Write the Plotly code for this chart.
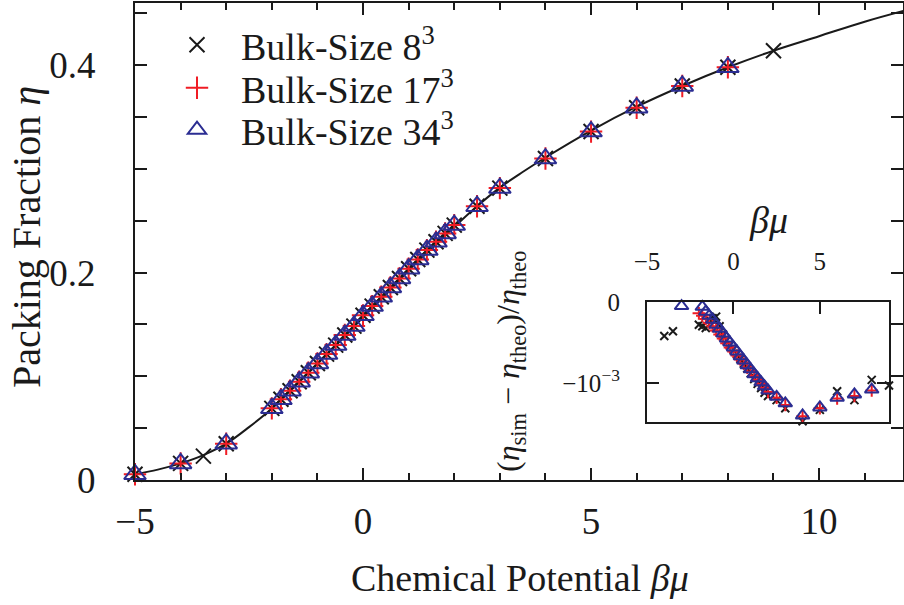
import plotly.graph_objects as go

# ---------------- data ----------------
# theoretical curve eta(beta mu)
mu_theo = [-5, -4.5, -4, -3.5, -3, -2.5, -2, -1.5, -1, -0.5, 0, 0.5, 1, 1.5, 2,
           2.5, 3, 3.5, 4, 5, 6, 7, 8, 9, 10, 11, 11.9]
eta_theo = [0.0055, 0.010, 0.016, 0.024, 0.035, 0.051, 0.069, 0.091, 0.112, 0.134,
            0.157, 0.179, 0.202, 0.223, 0.244, 0.264, 0.282, 0.297, 0.311, 0.337,
            0.360, 0.380, 0.398, 0.414, 0.428, 0.442, 0.453]

# simulation points, bulk size 17^3 and 34^3 (same chemical potentials)
mu_big = [-5, -4, -3, -2, -1.8, -1.6, -1.4, -1.2, -1.0, -0.8, -0.6, -0.4, -0.2, 0,
          0.2, 0.4, 0.6, 0.8, 1.0, 1.2, 1.4, 1.6, 1.8, 2.0, 2.5, 3, 4, 5, 6, 7, 8]
eta_17 = [0.0055, 0.016, 0.035, 0.0691, 0.0778, 0.0861, 0.0948, 0.1035, 0.1124,
          0.1214, 0.1301, 0.1398, 0.1484, 0.1588, 0.1677, 0.1767, 0.1857, 0.1944,
          0.2038, 0.2127, 0.2217, 0.2297, 0.2378, 0.2458, 0.2640, 0.2815, 0.3100,
          0.3360, 0.3590, 0.3800, 0.3980]
eta_34 = [0.0055, 0.016, 0.035, 0.0691, 0.0778, 0.0861, 0.0948, 0.1035, 0.1124,
          0.1214, 0.1301, 0.1398, 0.1484, 0.1588, 0.1677, 0.1767, 0.1857, 0.1944,
          0.2038, 0.2127, 0.2217, 0.2297, 0.2378, 0.2458, 0.2640, 0.2815, 0.3100,
          0.3360, 0.3590, 0.3800, 0.3980]

# bulk size 8^3
mu_8 = [-5, -4, -3.5, -3, -2, -1.8, -1.6, -1.4, -1.2, -1.0, -0.8, -0.6, -0.4, -0.2, 0,
        0.2, 0.4, 0.6, 0.8, 1.0, 1.2, 1.4, 1.6, 1.8, 2.0, 2.5, 3, 4, 5, 6, 7, 8, 9]
eta_8 = [0.0055, 0.016, 0.023, 0.035, 0.0691, 0.0778, 0.0861, 0.0948, 0.1035, 0.1124,
         0.1214, 0.1301, 0.1398, 0.1484, 0.1588, 0.1677, 0.1767, 0.1857, 0.1944,
         0.2038, 0.2127, 0.2217, 0.2297, 0.2378, 0.2458, 0.2640, 0.2815, 0.3100,
         0.3360, 0.3590, 0.3800, 0.3980, 0.4140]

# inset: relative deviation (eta_sim - eta_theo)/eta_theo
ins_mu_8 = [-4, -3.5, -2, -1.8, -1.6, -1.4, -1.2, -1.0, -0.8, -0.6, -0.4, -0.2, 0,
            0.2, 0.4, 0.6, 0.8, 1.0, 1.2, 1.4, 1.6, 1.8, 2.0, 2.5, 3, 4, 5, 6, 7, 8, 9]
ins_dev_8 = [-0.00042, -0.00036, -0.00028, -0.00030, -0.00032, -0.00022, -0.00020,
             -0.00018, -0.00030, -0.00040, -0.00047, -0.00053, -0.00058, -0.00064,
             -0.00070, -0.00076, -0.00082, -0.00088, -0.00095, -0.00101, -0.00106,
             -0.00112, -0.00116, -0.00121, -0.00131, -0.00147, -0.00133, -0.00110,
             -0.00121, -0.00096, -0.00103]

ins_mu_17 = [-2, -1.8, -1.6, -1.4, -1.2, -1.0, -0.8, -0.6, -0.4, -0.2, 0, 0.2, 0.4,
             0.6, 0.8, 1.0, 1.2, 1.4, 1.6, 1.8, 2.0, 2.5, 3, 4, 5, 6, 7, 8]
ins_dev_17 = [-0.00014, -0.00017, -0.00021, -0.00026, -0.00030, -0.00035, -0.00040,
              -0.00045, -0.00051, -0.00056, -0.00061, -0.00066, -0.00071, -0.00076,
              -0.00081, -0.00086, -0.00091, -0.00096, -0.00101, -0.00106, -0.00111,
              -0.00118, -0.00127, -0.00141, -0.00131, -0.00119, -0.00116, -0.00109]

ins_mu_34 = [-3, -2, -1.8, -1.6, -1.4, -1.2, -1.0, -0.8, -0.6, -0.4, -0.2, 0, 0.2, 0.4,
             0.6, 0.8, 1.0, 1.2, 1.4, 1.6, 1.8, 2.0, 2.5, 3, 4, 5, 6, 7, 8]
ins_dev_34 = [-0.00005, 0.00001, -0.00006, -0.00012, -0.00017, -0.00022, -0.00028,
              -0.00033, -0.00039, -0.00045, -0.00050, -0.00056, -0.00061, -0.00067,
              -0.00072, -0.00078, -0.00083, -0.00089, -0.00094, -0.00099, -0.00104,
              -0.00109, -0.00117, -0.00125, -0.00140, -0.00130, -0.00118, -0.00114,
              -0.00108]

names = ["Bulk-Size 8<sup>3</sup>", "Bulk-Size 17<sup>3</sup>", "Bulk-Size 34<sup>3</sup>"]

# ---------------- style ----------------
W, H = 904, 605
FONT = "Liberation Serif"
INK = "#1a1a1a"
BLUE = "#2b2d92"
RED = "#f01c24"
FS = 38
FS_TICK = 37
FS_IN = 25

fig = go.Figure()

fig.add_trace(go.Scatter(x=mu_theo, y=eta_theo, mode="lines", line=dict(color=INK, width=2, shape="spline"),
                         showlegend=False, hoverinfo="skip", cliponaxis=False))
fig.add_trace(go.Scatter(x=mu_8, y=eta_8, mode="markers", name=names[0], legendgroup="a", legend="legend",
                         marker=dict(symbol="x-thin-open", size=15, line=dict(color=INK, width=2), color=INK),
                         cliponaxis=False))
fig.add_trace(go.Scatter(x=mu_big, y=eta_17, mode="markers", name=names[1], legendgroup="b", legend="legend2",
                         marker=dict(symbol="cross-thin-open", size=16, line=dict(color=RED, width=2), color=RED),
                         cliponaxis=False))
fig.add_trace(go.Scatter(x=mu_big, y=eta_34, mode="markers", name=names[2], legendgroup="c", legend="legend3",
                         marker=dict(symbol="triangle-up-open", size=19, line=dict(color=BLUE, width=2), color=BLUE),
                         cliponaxis=False))

# inset
fig.add_trace(go.Scatter(x=ins_mu_8, y=ins_dev_8, mode="markers", xaxis="x2", yaxis="y2", showlegend=False,
                         marker=dict(symbol="x-thin-open", size=8, line=dict(color=INK, width=2), color=INK),
                         cliponaxis=False))
fig.add_trace(go.Scatter(x=ins_mu_17, y=ins_dev_17, mode="markers", xaxis="x2", yaxis="y2", showlegend=False,
                         marker=dict(symbol="cross-thin-open", size=9, line=dict(color=RED, width=2), color=RED),
                         cliponaxis=False))
fig.add_trace(go.Scatter(x=ins_mu_34, y=ins_dev_34, mode="markers", xaxis="x2", yaxis="y2", showlegend=False,
                         marker=dict(symbol="triangle-up-open", size=12, line=dict(color=BLUE, width=2), color=BLUE),
                         cliponaxis=False))

axis_common = dict(showgrid=False, zeroline=False, showline=True, linecolor=INK, linewidth=2,
                   ticks="inside", tickcolor=INK, tickwidth=1.5, automargin=False)
tick_main = dict(family=FONT, size=FS_TICK, color=INK)
tick_in = dict(family=FONT, size=FS_IN, color=INK)


def legend_box(center_y):
    return dict(x=153 / W, y=(H - center_y) / H, xanchor="left", yanchor="middle",
                bgcolor="rgba(0,0,0,0)", font=dict(size=FS, family=FONT, color=INK),
                itemwidth=78, traceorder="normal")


fig.update_layout(
    width=W, height=H,
    margin=dict(l=0, r=0, t=0, b=0, autoexpand=False),
    paper_bgcolor="white", plot_bgcolor="white",
    font=dict(family=FONT, size=FS, color=INK),
    xaxis=dict(domain=[135 / W, 903 / W], range=[-5, 11.84], tickmode="linear", tick0=-5, dtick=5,
               ticklen=12, mirror="allticks", ticklabelstandoff=8, tickfont=tick_main,
               minor=dict(dtick=1, ticklen=7, ticks="inside", tickcolor=INK, tickwidth=1.5),
               anchor="y", **axis_common),
    yaxis=dict(domain=[(H - 480) / H, (H - 3) / H], range=[0, 0.46], tickmode="array",
               tickvals=[0, 0.2, 0.4], ticktext=["0", "0.2", "0.4"],
               ticklen=12, mirror="allticks", ticklabelstandoff=30, tickfont=tick_main,
               minor=dict(dtick=0.05, tick0=0, ticklen=12, ticks="inside", tickcolor=INK, tickwidth=1.5),
               anchor="x", **axis_common),
    xaxis2=dict(domain=[647 / W, 889 / W], range=[-5, 9], tickmode="linear", tick0=-5, dtick=5,
                side="top", ticklen=12, mirror=True, anchor="y2", ticklabelstandoff=20,
                tickfont=tick_in, **axis_common),
    yaxis2=dict(domain=[(H - 422) / H, (H - 302) / H], range=[-0.00148, 0], tickmode="array",
                tickvals=[0, -0.001], ticktext=["0", "−10<sup>−3</sup>"],
                ticklen=12, mirror="allticks", anchor="x2", ticklabelstandoff=20,
                tickfont=tick_in, **axis_common),
    legend=legend_box(45),
    legend2=legend_box(88),
    legend3=legend_box(130),
    showlegend=True,
)

annotations = [
    dict(text="Chemical Potential <i>βμ</i>", x=520 / W, y=(H - 578) / H, xref="paper", yref="paper",
         showarrow=False, xanchor="center", yanchor="middle", font=dict(size=FS)),
    dict(text="Packing Fraction <i>η</i>", x=26 / W, y=(H - 237) / H, xref="paper", yref="paper",
         showarrow=False, xanchor="center", yanchor="middle", textangle=-90, font=dict(size=40)),
    dict(text="<i>βμ</i>", x=768 / W, y=(H - 220) / H, xref="paper", yref="paper",
         showarrow=False, xanchor="center", yanchor="middle", font=dict(size=FS)),
    dict(text="(<i>η</i><sub>sim</sub> − <i>η</i><sub>theo</sub>)/<i>η</i><sub>theo</sub>",
         x=510 / W, y=(H - 362) / H, xref="paper", yref="paper",
         showarrow=False, xanchor="center", yanchor="middle", textangle=-90, font=dict(size=32)),
]
fig.update_layout(annotations=annotations)

fig.write_html("out.html")
